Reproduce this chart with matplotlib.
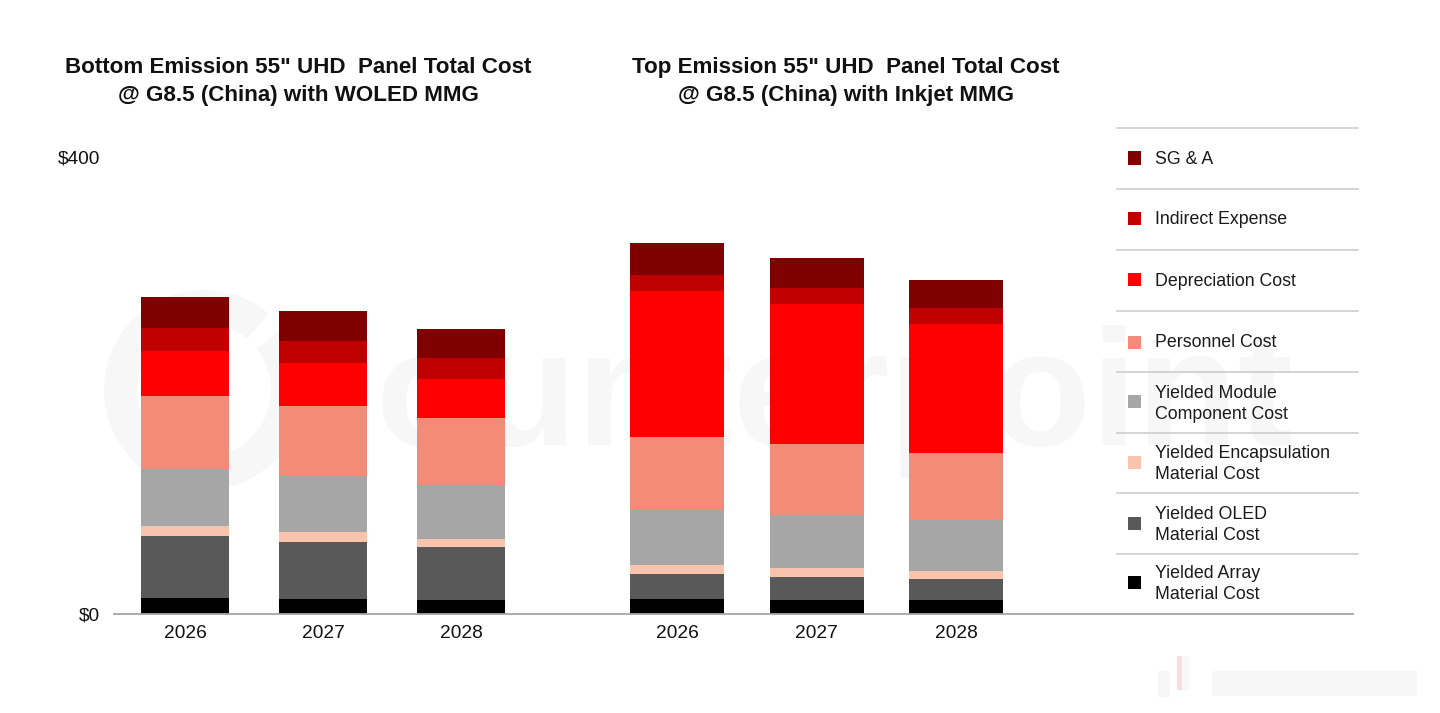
import matplotlib
matplotlib.use('Agg')
import matplotlib.pyplot as plt
from matplotlib.patches import Rectangle, Wedge
from matplotlib.lines import Line2D

W, H = 1440, 713

years = ['2026', '2027', '2028']

# values in $, bottom of the stack first
bottom_array = [13.2, 12.7, 11.8]
bottom_oled = [54.4, 49.7, 46.5]
bottom_encap = [8.8, 8.8, 7.0]
bottom_module = [50.3, 49.1, 47.4]
bottom_personnel = [63.8, 61.9, 58.8]
bottom_deprec = [39.1, 37.2, 34.2]
bottom_indirect = [20.8, 19.6, 18.4]
bottom_sga = [26.9, 26.3, 25.4]

top_array = [13.0, 12.1, 11.6]
top_oled = [21.9, 20.2, 18.7]
top_encap = [7.9, 7.6, 7.0]
top_module = [48.0, 46.2, 44.7]
top_personnel = [63.8, 62.5, 58.8]
top_deprec = [128.1, 122.2, 113.2]
top_indirect = [14.3, 14.0, 13.4]
top_sga = [27.8, 26.3, 24.9]

colors = ['#000000', '#595959', '#F8C4AD', '#A6A6A6', '#F28B78', '#FF0000', '#C00000', '#800000']

legend_labels = ['SG & A', 'Indirect Expense', 'Depreciation Cost', 'Personnel Cost',
                 'Yielded Module\nComponent Cost', 'Yielded Encapsulation\nMaterial Cost',
                 'Yielded OLED\nMaterial Cost', 'Yielded Array\nMaterial Cost']
legend_colors = colors[::-1]

plt.rcParams['font.family'] = ['Liberation Sans', 'DejaVu Sans']


def fx(px):
    return px / W


def fy(py):
    return 1 - py / H


def make_axes(x0, x1):
    y0, y1 = 613.5, 157
    ax = fig.add_axes([fx(x0), fy(y0), fx(x1) - fx(x0), fy(y1) - fy(y0)])
    ax.patch.set_alpha(0)
    ax.set_ylim(0, 400)
    for s in ['top', 'right', 'left']:
        ax.spines[s].set_visible(False)
    ax.spines['bottom'].set_color('#A6A6A6')
    ax.spines['bottom'].set_linewidth(1.3)
    ax.tick_params(axis='x', length=0, labelsize=13.8, pad=8, labelcolor='#111111')
    return ax


def stacked(ax, series, width):
    base = [0, 0, 0]
    for vals, c in zip(series, colors):
        ax.bar(range(3), vals, width, bottom=base, color=c, linewidth=0, zorder=2)
        base = [b + v for b, v in zip(base, vals)]
    ax.set_xticks(range(3))
    ax.set_xticklabels(years)


fig = plt.figure(figsize=(W / 100, H / 100), dpi=100)

# left group, bar centres about 138 px apart
spacing = 138.2
ax1 = make_axes(114, 560)
ax1.set_xlim((114 - 185) / spacing, (560 - 185) / spacing)
stacked(ax1, [bottom_array, bottom_oled, bottom_encap, bottom_module, bottom_personnel,
              bottom_deprec, bottom_indirect, bottom_sga], 88 / spacing)
ax1.set_yticks([0, 400])
ax1.set_yticklabels(['$0', '$400'])
ax1.tick_params(axis='y', length=0, labelsize=13.8, pad=10, labelcolor='#111111')

# right group
spacing2 = 139.5
ax2 = make_axes(560, 1353)
ax2.set_xlim((560 - 677) / spacing2, (1353 - 677) / spacing2)
stacked(ax2, [top_array, top_oled, top_encap, top_module, top_personnel,
              top_deprec, top_indirect, top_sga], 94 / spacing2)
ax2.set_yticks([])

# titles
fig.text(fx(298), fy(81.5), 'Bottom Emission 55" UHD  Panel Total Cost\n@ G8.5 (China) with WOLED MMG',
         ha='center', va='center', fontsize=16.1, fontweight='bold', color='#111111', linespacing=1.39)
fig.text(fx(846), fy(81.5), 'Top Emission 55" UHD  Panel Total Cost\n@ G8.5 (China) with Inkjet MMG',
         ha='center', va='center', fontsize=16.1, fontweight='bold', color='#111111', linespacing=1.39)

# legend table
row_lines = [128, 189, 250, 311, 372, 433, 493, 554]
row_text = [157, 218, 279, 341, 402, 462, 523, 582]
row_marker = [158, 219, 279, 342, 401, 462, 523, 582]
for y in row_lines:
    fig.add_artist(Line2D([fx(1117), fx(1358)], [fy(y), fy(y)], color='#C9C9C9', lw=1.1))
for label, c, ty, my in zip(legend_labels, legend_colors, row_text, row_marker):
    fig.add_artist(Rectangle((fx(1128), fy(my + 6.5)), 13 / W, 13 / H, color=c, lw=0,
                             transform=fig.transFigure))
    fig.text(fx(1155), fy(ty + 2), label, ha='left', va='center', fontsize=12.8,
             color='#1a1a1a', linespacing=1.38)

# faint watermark behind the bars
wm = '#F7F7F7'
fig.add_artist(Wedge((204, H - 390), 100, 50, 398, width=33, facecolor=wm, lw=0,
                     transform=None, zorder=-1))
fig.text(fx(376), fy(445), 'ounterpoint', ha='left', va='baseline', fontsize=119,
         fontweight='bold', color=wm, zorder=-1)

# blurred stamp bottom right
fig.add_artist(Rectangle((fx(1177), fy(690)), 5 / W, 34 / H, color='#F6DFE1', lw=0,
                         transform=fig.transFigure))
fig.add_artist(Rectangle((fx(1182), fy(690)), 8 / W, 34 / H, color='#F8F8F8', lw=0,
                         transform=fig.transFigure))
fig.add_artist(Rectangle((fx(1158), fy(697)), 12 / W, 26 / H, color='#F6F6F6', lw=0,
                         transform=fig.transFigure))
fig.add_artist(Rectangle((fx(1212), fy(696)), 205 / W, 25 / H, color='#F6F6F6', lw=0,
                         transform=fig.transFigure))

fig.savefig('out.png', dpi=100, facecolor='white')
